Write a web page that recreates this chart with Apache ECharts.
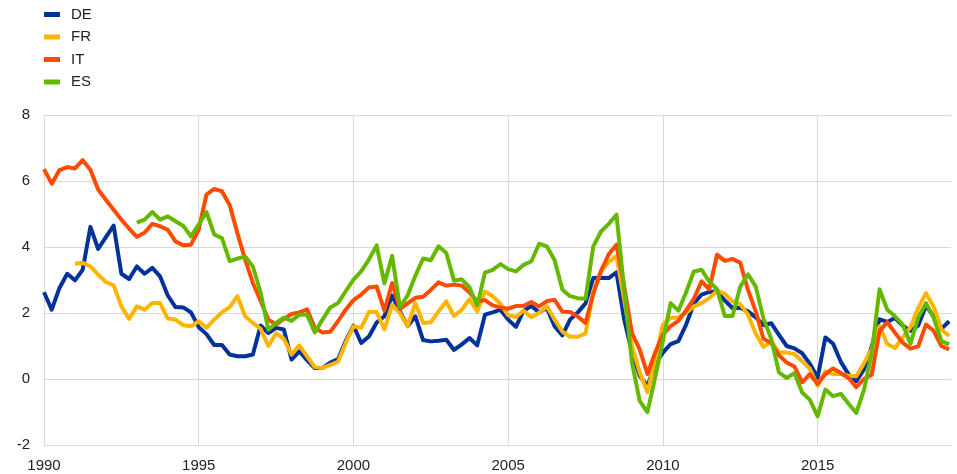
<!DOCTYPE html>
<html>
<head>
<meta charset="utf-8">
<script src="https://cdn.jsdelivr.net/npm/echarts@6/dist/echarts.min.js"></script>
<style>
  html, body { margin: 0; padding: 0; background: #fff; }
  #chart { width: 957px; height: 474px; }
</style>
</head>
<body>
<div id="chart"></div>
<script>
// quarterly series, first value = 1990 Q1
const startYear = 1990

const de = [
  2.63, 2.10, 2.76, 3.19, 2.99, 3.31, 4.61, 3.94, 4.30, 4.65,
  3.19, 3.03, 3.41, 3.19, 3.37, 3.11, 2.53, 2.18, 2.17, 2.02,
  1.57, 1.36, 1.03, 1.03, 0.74, 0.69, 0.69, 0.74, 1.62, 1.39,
  1.55, 1.50, 0.59, 0.84, 0.57, 0.33, 0.33, 0.50, 0.60, 1.15,
  1.62, 1.09, 1.29, 1.71, 1.90, 2.53, 2.05, 1.60, 1.90, 1.18,
  1.14, 1.16, 1.19, 0.88, 1.05, 1.24, 1.02, 1.95, 2.02, 2.10,
  1.80, 1.58, 2.07, 2.21, 2.02, 2.15, 1.60, 1.32, 1.80, 2.02,
  2.29, 3.06, 3.07, 3.06, 3.23, 1.80, 0.80, 0.10, -0.22, 0.45,
  0.80, 1.06, 1.15, 1.65, 2.28, 2.56, 2.64, 2.65, 2.38, 2.15,
  2.16, 2.05, 1.87, 1.63, 1.69, 1.34, 1.00, 0.93, 0.78, 0.46,
  0.04, 1.26, 1.07, 0.52, 0.14, -0.07, 0.30, 0.99, 1.81, 1.73,
  1.85, 1.62, 1.46, 1.62, 2.22, 1.90, 1.52, 1.75
]

const fr = [
  null, null, null, null, 3.49, 3.52, 3.41, 3.16, 2.94, 2.84,
  2.20, 1.82, 2.20, 2.10, 2.30, 2.30, 1.83, 1.80, 1.63, 1.60,
  1.75, 1.55, 1.80, 2.02, 2.18, 2.51, 1.90, 1.70, 1.52, 1.00,
  1.38, 1.22, 0.74, 1.02, 0.69, 0.36, 0.33, 0.43, 0.52, 1.09,
  1.60, 1.55, 2.03, 2.03, 1.50, 2.25, 2.00, 1.60, 2.30, 1.70,
  1.72, 2.05, 2.35, 1.91, 2.10, 2.42, 2.05, 2.65, 2.51, 2.28,
  1.93, 1.88, 2.07, 1.87, 2.01, 2.20, 1.80, 1.44, 1.28, 1.28,
  1.38, 2.63, 3.26, 3.55, 3.72, 2.40, 1.00, 0.20, -0.40, 0.60,
  1.65, 1.85, 1.87, 2.00, 2.20, 2.30, 2.45, 2.68, 2.58, 2.35,
  2.27, 1.95, 1.37, 0.97, 1.15, 0.81, 0.80, 0.76, 0.54, 0.31,
  -0.20, 0.23, 0.15, 0.15, 0.10, 0.08, 0.48, 0.92, 1.60, 1.06,
  0.94, 1.26, 1.57, 2.15, 2.60, 2.19, 1.50, 1.30
]

const it = [
  6.36, 5.92, 6.33, 6.42, 6.38, 6.63, 6.34, 5.74, 5.43, 5.13,
  4.83, 4.56, 4.31, 4.43, 4.70, 4.63, 4.52, 4.17, 4.05, 4.07,
  4.53, 5.59, 5.76, 5.69, 5.27, 4.42, 3.62, 2.91, 2.37, 1.80,
  1.65, 1.82, 1.97, 2.02, 2.11, 1.55, 1.41, 1.43, 1.75, 2.10,
  2.39, 2.56, 2.77, 2.80, 2.07, 2.91, 2.12, 2.29, 2.46, 2.49,
  2.70, 2.93, 2.83, 2.86, 2.83, 2.62, 2.35, 2.39, 2.23, 2.17,
  2.13, 2.21, 2.22, 2.33, 2.20, 2.36, 2.40, 2.04, 2.03, 1.89,
  1.70, 2.58, 3.28, 3.78, 4.07, 2.80, 1.39, 0.90, 0.15, 0.80,
  1.35, 1.60, 1.76, 2.08, 2.43, 2.96, 2.72, 3.77, 3.58, 3.64,
  3.52, 2.70, 2.05, 1.22, 1.09, 0.72, 0.50, 0.38, -0.10, 0.15,
  -0.15, 0.15, 0.32, 0.18, 0.03, -0.25, 0.00, 0.13, 1.45, 1.72,
  1.40, 1.10, 0.92, 0.99, 1.65, 1.46, 1.00, 0.90
]

const es = [
  null, null, null, null, null, null, null, null, null, null,
  null, null, 4.74, 4.83, 5.06, 4.83, 4.93, 4.78, 4.64, 4.32,
  4.68, 5.06, 4.38, 4.27, 3.57, 3.65, 3.71, 3.41, 2.62, 1.49,
  1.70, 1.86, 1.76, 1.95, 1.95, 1.41, 1.80, 2.17, 2.30, 2.66,
  3.01, 3.26, 3.62, 4.05, 2.90, 3.73, 2.18, 2.53, 3.13, 3.65,
  3.60, 4.02, 3.82, 2.98, 3.02, 2.78, 2.23, 3.22, 3.31, 3.48,
  3.33, 3.26, 3.46, 3.57, 4.10, 4.02, 3.60, 2.71, 2.51, 2.45,
  2.43, 4.02, 4.47, 4.70, 4.98, 2.70, 0.50, -0.66, -1.00, 0.05,
  1.15, 2.30, 2.07, 2.63, 3.26, 3.31, 2.95, 2.72, 1.91, 1.91,
  2.80, 3.17, 2.80, 1.83, 1.22, 0.20, 0.03, 0.18, -0.41, -0.63,
  -1.13, -0.32, -0.52, -0.45, -0.75, -1.03, -0.32, 0.80, 2.72, 2.10,
  1.90, 1.65, 1.07, 1.85, 2.30, 1.85, 1.15, 1.05
]

const seriesNames = ['DE', 'FR', 'IT', 'ES']
const seriesColors = ['#003299', '#FFB400', '#FF4B00', '#65B800']
const seriesValues = [de, fr, it, es]

const textColor = '#222'
const gridColor = '#d9d9d9'

function toPoints(values) {
  return values
    .map((v, i) => [startYear + i / 4, v])
    .filter(p => p[1] !== null)
}

const chart = echarts.init(document.getElementById('chart'), null, { renderer: 'canvas' })

const option = {
  animation: false,
  backgroundColor: '#fff',
  color: seriesColors,
  legend: {
    orient: 'vertical',
    left: 44,
    top: 7,
    padding: 0,
    itemGap: 7.5,
    itemWidth: 16,
    itemHeight: 5,
    icon: 'rect',
    textStyle: {
      fontFamily: 'Liberation Sans, Arial, sans-serif',
      fontSize: 15,
      lineHeight: 15,
      color: textColor,
      padding: [0, 0, 0, 6]
    },
    data: seriesNames
  },
  grid: {
    left: 44,
    right: 6,
    top: 115,
    bottom: 29,
    outerBoundsMode: 'none'
  },
  xAxis: {
    type: 'value',
    min: 1990,
    max: 2019.31,
    interval: 5,
    axisLine: { show: true, lineStyle: { color: gridColor, width: 1 } },
    axisTick: { show: false },
    axisLabel: {
      showMaxLabel: false,
      margin: 13,
      fontFamily: 'Liberation Sans, Arial, sans-serif',
      fontSize: 15,
      color: textColor,
      formatter: v => String(v)
    },
    splitLine: {
      show: true,
      showMaxLine: false,
      lineStyle: { color: gridColor, width: 1 }
    }
  },
  yAxis: {
    type: 'value',
    min: -2,
    max: 8,
    interval: 2,
    axisLine: { show: true, lineStyle: { color: gridColor, width: 1 } },
    axisTick: { show: false },
    axisLabel: {
      margin: 14,
      fontFamily: 'Liberation Sans, Arial, sans-serif',
      fontSize: 15,
      color: textColor
    },
    splitLine: { lineStyle: { color: gridColor, width: 1 } }
  },
  series: seriesNames.map((name, k) => ({
    name,
    type: 'line',
    data: toPoints(seriesValues[k]),
    showSymbol: false,
    symbol: 'none',
    lineStyle: { width: 4, color: seriesColors[k], join: 'round' },
    itemStyle: { color: seriesColors[k] }
  }))
}

chart.setOption(option)
</script>
</body>
</html>
